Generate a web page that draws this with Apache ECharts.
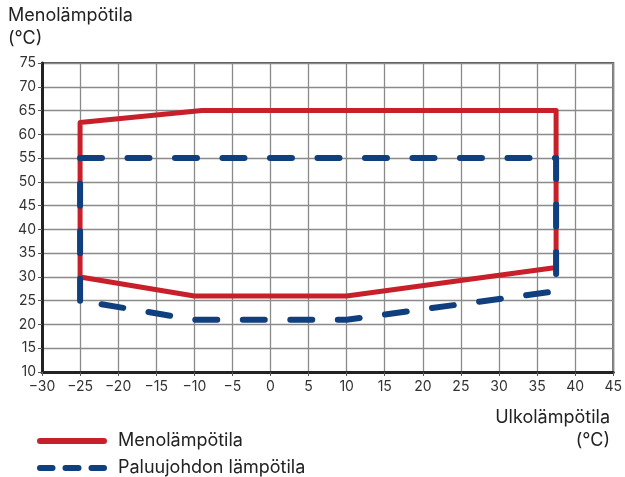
<!DOCTYPE html>
<html><head><meta charset="utf-8">
<script src="https://cdn.jsdelivr.net/npm/echarts@6/dist/echarts.min.js"></script>
<style>html,body{margin:0;padding:0;background:#fff}#c{width:625px;height:477px}</style>
</head><body><div id="c"></div>
<script>
const xTicks = [-30,-25,-20,-15,-10,-5,0,5,10,15,20,25,30,35,40,45];
const yTicks = [10,15,20,25,30,35,40,45,50,55,60,65,70,75];
const supplyX = [-25, -25, -9, 37.5, 37.5, 10, -10, -25];
const supplyY = [30, 62.5, 65, 65, 32, 26, 26, 30];
const returnX = [-25, -25, 37.5, 37.5, 10, -10, -25];
const returnY = [25, 55, 55, 27, 21, 21, 25];
const seriesNames = ['Menolämpötila', 'Paluujohdon lämpötila'];
const xTitle = ['Ulkolämpötila', '(°C)'];
const yTitle = ['Menolämpötila', '(°C)'];

const FONT = 'Inter';
const RED = '#c8202a', BLUE = '#0f3f7f';
const chart = echarts.init(document.getElementById('c'), null, {renderer:'canvas'});
const pairs = (xs, ys) => xs.map((x,i)=>[x, ys[i]]);
chart.setOption({
  animation:false,
  textStyle:{fontFamily:FONT},
  graphic:[
    {type:'text', left:8, top:7, style:{text:yTitle[0], font:'18px '+FONT, fill:'#222'}},
    {type:'text', left:8, top:30, style:{text:yTitle[1], font:'18px '+FONT, fill:'#222'}},
    {type:'text', right:15, top:409, style:{text:xTitle[0], font:'18px '+FONT, fill:'#222'}},
    {type:'text', right:15, top:432, style:{text:xTitle[1], font:'18px '+FONT, fill:'#222'}}
  ],
  grid:{left:42, right:10, top:63, bottom:105, show:true, borderColor:'#555', borderWidth:2},
  legend:{orient:'vertical', left:37, top:432, height:60, padding:0, itemWidth:70, itemHeight:6, itemGap:9,
    textStyle:{fontFamily:FONT,fontSize:18,color:'#222',padding:[0,0,0,6]},
    data:[
      {name:seriesNames[0], icon:'path://M3,0H67A3,3 0 0 1 67,6H3A3,3 0 0 1 3,0Z', itemStyle:{color:RED}},
      {name:seriesNames[1], icon:'path://M3,0H15.5A3,3 0 0 1 15.5,6H3A3,3 0 0 1 3,0Z M28.5,0H41.5A3,3 0 0 1 41.5,6H28.5A3,3 0 0 1 28.5,0Z M54.5,0H67A3,3 0 0 1 67,6H54.5A3,3 0 0 1 54.5,0Z', itemStyle:{color:BLUE}}
    ]},
  xAxis:{type:'value', min:xTicks[0], max:xTicks[xTicks.length-1], interval:5,
    axisLine:{onZero:false, lineStyle:{color:'#222',width:3}}, axisTick:{show:true,length:4,lineStyle:{color:'#555'}},
    axisLabel:{fontFamily:FONT,fontSize:14,color:'#333',margin:8,formatter:v=>String(v).replace('-','−')},
    splitLine:{lineStyle:{color:'#8a8a8a',width:1.3}}},
  yAxis:{type:'value', min:yTicks[0], max:yTicks[yTicks.length-1], interval:5,
    axisLine:{show:true, onZero:false, lineStyle:{color:'#222',width:3}}, axisTick:{show:true,length:4,lineStyle:{color:'#555'}},
    axisLabel:{fontFamily:FONT,fontSize:14,color:'#333',margin:6},
    splitLine:{lineStyle:{color:'#8a8a8a',width:1.3}}},
  series:[
    {name:seriesNames[0], type:'line', data:pairs(supplyX,supplyY), symbol:'none', z:3,
      itemStyle:{color:RED},
      lineStyle:{color:RED, width:5, cap:'round', join:'round'}},
    {name:seriesNames[1], type:'line', data:pairs(returnX,returnY), symbol:'none', z:4,
      itemStyle:{color:BLUE},
      lineStyle:{color:BLUE, width:6, type:[22,25.5], cap:'round', join:'round'}}
  ]
});
</script></body></html>
